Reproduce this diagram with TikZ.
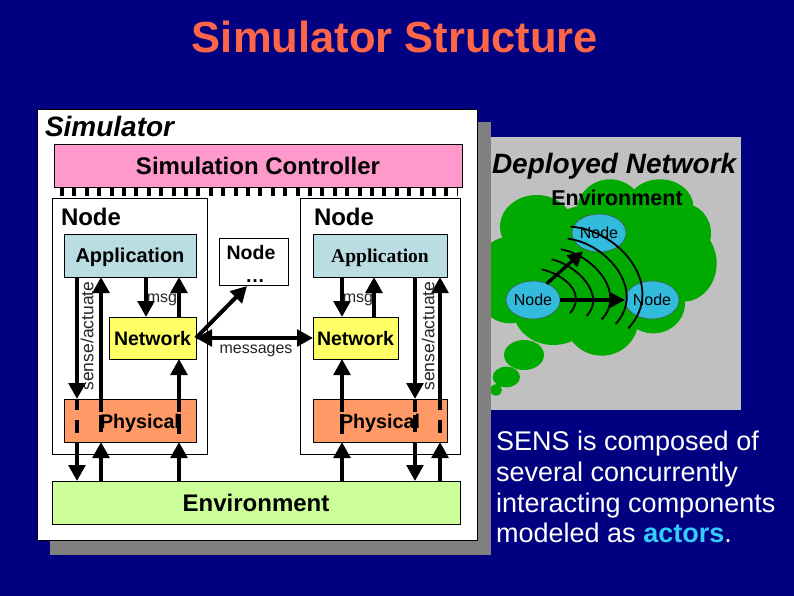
\documentclass[tikz,border=0pt]{standalone}
\usepackage{fontspec}
\setmainfont{Liberation Sans}
\newfontfamily\timesf{Liberation Serif}
\usetikzlibrary{arrows.meta,shapes.geometric}
\definecolor{navybg}{HTML}{000080}
\definecolor{titlec}{HTML}{FF6647}
\definecolor{pinkc}{HTML}{FF99CC}
\definecolor{appc}{HTML}{B9DDE3}
\definecolor{netc}{HTML}{FFFF66}
\definecolor{phyc}{HTML}{FF9966}
\definecolor{envc}{HTML}{CCFF99}
\definecolor{shadowc}{HTML}{808080}
\definecolor{panelc}{HTML}{C0C0C0}
\definecolor{cloudc}{HTML}{00AA00}
\definecolor{nodec}{HTML}{33BBDD}
\definecolor{actorc}{HTML}{33CCFF}
\newcommand{\fs}[1]{\fontsize{#1}{#1}\selectfont}
\tikzset{
  x=1pt,y=-1pt,
  box/.style={draw=black,line width=0.8pt,inner sep=0pt,outer sep=0pt,text depth=0pt,font=\fs{19.5}\bfseries},
  lbl/.style={inner sep=0pt,outer sep=0pt,anchor=base,text=black},
  thin lbl/.style={inner sep=0pt,outer sep=0pt,text=black!85},
  arr/.style={line width=4pt,-{Triangle[length=16pt,width=16.5pt]}},
  barr/.style={line width=4pt,{Triangle[length=16pt,width=16.5pt]}-{Triangle[length=16pt,width=16.5pt]}},
  thru/.style={line width=4pt},
  arc/.style={line width=1.8pt},
  wireless/.style={line width=3.3pt,-{Triangle[length=15pt,width=15pt]}},
  sensor/.style={ellipse,draw=black!70,line width=0.5pt,fill=nodec,minimum width=48pt,minimum height=38pt,inner sep=0pt,outer sep=0pt,font=\fs{16}},
}
\begin{document}
\begin{tikzpicture}
\useasboundingbox (0,0) rectangle (794,596);
\fill[navybg] (0,0) rectangle (794,596);
\node[lbl,text=titlec,font=\fs{43.5}\bfseries] (title) at (395,53) {Simulator Structure};
% deployed network panel
\fill[panelc] (480,137) rectangle (741,410);
\begin{scope}[shift={(480,130)},scale=1/3]
  \fill[cloudc]
    (170,290) ellipse [x radius=110,y radius=95]
    (390,245) ellipse [x radius=100,y radius=97]
    (540,230) ellipse [x radius=100,y radius=82]
    (608,310) ellipse [x radius=85,y radius=90]
    (610,400) ellipse [x radius=100,y radius=115]
    (520,520) ellipse [x radius=95,y radius=90]
    (365,570) ellipse [x radius=110,y radius=107]
    (220,540) ellipse [x radius=120,y radius=105]
    (90,450) ellipse [x radius=110,y radius=130]
    (370,400) ellipse [x radius=250,y radius=180]
    (132,675) ellipse [x radius=60,y radius=45]
    (79,741) ellipse [x radius=41,y radius=31]
    (48,780) ellipse [x radius=18,y radius=17];
\end{scope}
% simulator panel
\fill[shadowc] (50,122) rectangle (491,555);
\draw[black,line width=0.6pt,fill=white] (37,109) rectangle (477,540);
\node[lbl,anchor=base west,font=\fs{28}\bfseries\itshape] (simtitle) at (45,137) {Simulator};
\node[lbl,anchor=base west,font=\fs{28}\bfseries\itshape] (deptitle) at (492,173) {Deployed Network};
% ticks
\draw[line width=9pt,dash pattern=on 4pt off 8.4pt] (60,191.5) -- (458,191.5);
% boxes
\node[box,fill=pinkc,minimum width=408pt,minimum height=43pt] (ctrl) at (258,165.5) {};
\node[lbl,font=\fs{24}\bfseries] (ctrltext) at (258,175) {Simulation Controller};
\node[box,fill=white,minimum width=155pt,minimum height=256pt] (nodeL) at (129.5,326.5) {};
\node[box,fill=white,minimum width=160pt,minimum height=256pt] (nodeR) at (380,326.5) {};
\node[lbl,anchor=base west,font=\fs{24}\bfseries] (nodeLt) at (61,225) {Node};
\node[lbl,anchor=base west,font=\fs{24}\bfseries] (nodeRt) at (314,225) {Node};
\node[box,fill=appc,minimum width=132pt,minimum height=43pt,font=\fs{20}\bfseries] (appL) at (130,255.5) {Application};
\node[box,fill=appc,minimum width=134pt,minimum height=43pt,font=\fs{19.5}\timesf\bfseries] (appR) at (380,255.5) {Application};
\node[box,fill=white,minimum width=69pt,minimum height=47pt] (nodeM) at (253.5,261.5) {};
\node[lbl,font=\fs{19.5}\bfseries] (nodeMt) at (251,259) {Node};
\node[lbl,font=\fs{19.5}\bfseries] (nodeMd) at (255,282) {\dots};
\node[box,fill=netc,minimum width=87pt,minimum height=42pt] (netL) at (152.5,338) {Network};
\node[box,fill=netc,minimum width=85pt,minimum height=42pt] (netR) at (355.5,338) {Network};
\node[box,fill=phyc,minimum width=132pt,minimum height=43pt] (phyL) at (130,420.5) {};
\node[box,fill=phyc,minimum width=134pt,minimum height=43pt] (phyR) at (380,420.5) {};
\node[box,fill=envc,minimum width=408pt,minimum height=43pt,font=\fs{24}\bfseries] (env) at (256,502.5) {Environment};
% lane positions
\coordinate (la) at (77,0); \coordinate (lb) at (101,0); \coordinate (lc) at (146,0); \coordinate (ld) at (179,0);
\coordinate (ra) at (342,0); \coordinate (rb) at (374,0); \coordinate (rc) at (415,0); \coordinate (rd) at (440,0);
% left arrows
\draw[arr] (la |- appL.south) -- (la |- phyL.north);
\draw[arr] (lb |- phyL.north) -- (lb |- appL.south);
\draw[arr] (lc |- appL.south) -- (lc |- netL.north);
\draw[arr] (ld |- netL.north) -- (ld |- appL.south);
\draw[arr] (ld |- phyL.north) -- (ld |- netL.south);
\draw[arr] (la |- phyL.south) -- (la |- env.north);
\draw[arr] (lb |- env.north) -- (lb |- phyL.south);
\draw[arr] (ld |- env.north) -- (ld |- phyL.south);
\draw[thru,dash pattern=on 11pt off 10pt on 13pt off 9pt] (la |- phyL.north) -- (la |- phyL.south);
\draw[thru,dash pattern=on 13pt off 3pt on 17pt off 10pt] (lb |- phyL.north) -- (lb |- phyL.south);
\draw[thru,dash pattern=on 13pt off 2pt on 20pt off 9pt] (ld |- phyL.north) -- (ld |- phyL.south);
% right arrows
\draw[arr] (ra |- appR.south) -- (ra |- netR.north);
\draw[arr] (rb |- netR.north) -- (rb |- appR.south);
\draw[arr] (rc |- appR.south) -- (rc |- phyR.north);
\draw[arr] (rd |- phyR.north) -- (rd |- appR.south);
\draw[arr] (ra |- phyR.north) -- (ra |- netR.south);
\draw[arr] (ra |- env.north) -- (ra |- phyR.south);
\draw[arr] (rc |- phyR.south) -- (rc |- env.north);
\draw[arr] (rd |- env.north) -- (rd |- phyR.south);
\draw[thru,dash pattern=on 13pt off 2pt on 20pt off 9pt] (ra |- phyR.north) -- (ra |- phyR.south);
\draw[thru,dash pattern=on 13pt off 3pt on 17pt off 10pt] (rc |- phyR.north) -- (rc |- phyR.south);
\draw[thru,dash pattern=on 11pt off 10pt on 13pt off 9pt] (rd |- phyR.north) -- (rd |- phyR.south);
% between networks
\draw[barr] (netL.east) -- (netR.west);
\coordinate (nmb) at (247,286);
\draw[arr] (netL.east) -- (nmb);
% labels
\node[lbl,font=\fs{19.7}\bfseries] (phyLt) at (140,428) {Physical};
\node[lbl,font=\fs{19.7}\bfseries] (phyRt) at (380,428) {Physical};
\node[thin lbl,anchor=base,font=\fs{16}] (msgL) at (162,302) {msg};
\node[thin lbl,anchor=base,font=\fs{16}] (msgR) at (358,302) {msg};
\node[thin lbl,anchor=base,font=\fs{16}] (msgs) at (256,353) {messages};
\node[thin lbl,font=\fs{17.5},rotate=90] (saL) at (87,336) {sense/actuate};
\node[thin lbl,font=\fs{17.5},rotate=90] (saR) at (428,336) {sense/actuate};
% deployed network
\node[lbl,font=\fs{21.5}\bfseries] (envt) at (617,205) {Environment};
\node[sensor] (nB) at (599,233) {Node};
\node[sensor] (nA) at (533,300) {Node};
\node[sensor] (nC) at (652,300) {Node};
\draw[wireless] (nA.east) -- (nC.west);
\draw[wireless,shorten >=3pt] (nA.50) -- (nB.-130);
\begin{scope}[shift={(480,130)},scale=1/3]
  \draw[arc] (185,418) .. controls (255,435) and (320,490) .. (270,550);
  \draw[arc] (215,388) .. controls (290,405) and (380,495) .. (320,558);
  \draw[arc] (243,358) .. controls (340,375) and (440,490) .. (365,568);
  \draw[arc] (263,326) .. controls (380,340) and (500,480) .. (407,582);
  \draw[arc] (272,290) .. controls (420,300) and (560,470) .. (445,595);
\end{scope}
% paragraph
\node[inner sep=0pt,anchor=west,align=left,text=white,font=\fontsize{27}{30.7}\selectfont] (para) at (496,487)
  {SENS is composed of\\several concurrently\\interacting components\\modeled as \textcolor{actorc}{\bfseries actors}.};
\end{tikzpicture}
\end{document}
